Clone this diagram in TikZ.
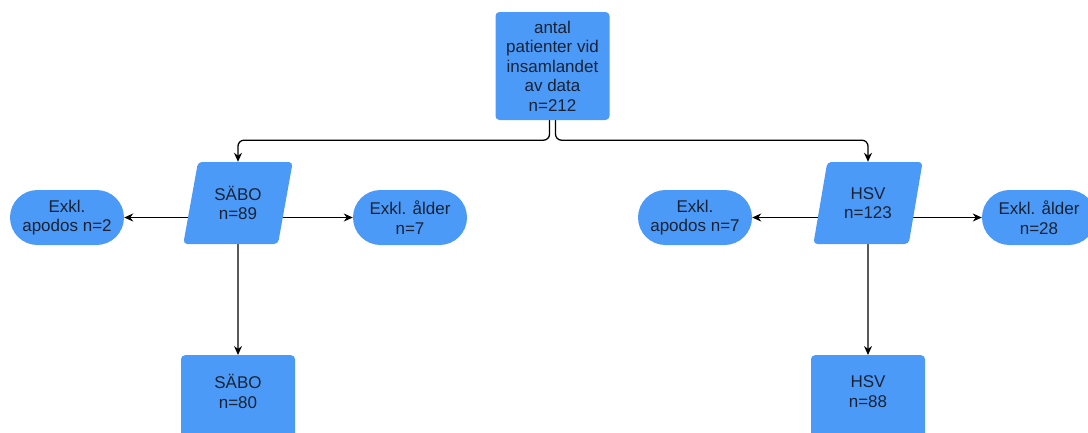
\documentclass[tikz,border=0pt]{standalone}
\usepackage{fontspec}
\setmainfont{Liberation Sans}
\usetikzlibrary{shapes.geometric,arrows.meta,backgrounds}
\definecolor{boxblue}{RGB}{76,154,247}
\definecolor{txt}{RGB}{24,34,52}
\begin{document}
\begin{tikzpicture}[x=1pt,y=-1pt,
  base/.style={fill=boxblue,draw=none,text=txt,align=center,font=\fontsize{17}{19.5}\selectfont,inner sep=2pt},
  rbox/.style={base,rectangle,rounded corners=4pt,minimum width=114pt},
  pbox/.style={base,trapezium,trapezium left angle=76,trapezium right angle=104,trapezium stretches=true,rounded corners=4pt,minimum width=110pt,minimum height=82pt},
  term/.style={base,rectangle,rounded corners=27.5pt,minimum width=114pt,minimum height=55pt},
  arr/.style={draw=black,line width=1.3pt,-{Stealth[length=9pt,width=8pt]}}]
\useasboundingbox (0,0) rectangle (1088,432);
\clip (0,0) rectangle (1088,432);
\node[rbox,minimum height=108pt] (top) at (552.5,66) {antal\\patienter vid\\insamlandet\\av data\\n=212};
\node[pbox] (sabo) at (238,203) {SÄBO\\n=89};
\node[pbox] (hsv) at (868,203) {HSV\\n=123};
\node[term] (ex1) at (67,217.5) {Exkl.\\apodos n=2};
\node[term] (ex2) at (410,217.5) {Exkl. ålder\\n=7};
\node[term] (ex3) at (695,217.5) {Exkl.\\apodos n=7};
\node[term] (ex4) at (1039,217.5) {Exkl. ålder\\n=28};
\node[rbox,minimum height=100pt,anchor=north] (sabo2) at (238,355) {SÄBO\\n=80\\[8pt]};
\node[rbox,minimum height=100pt,anchor=north] (hsv2) at (868,355) {HSV\\n=88\\[8pt]};
\begin{scope}[on background layer]
\draw[arr,rounded corners=6pt] ([xshift=-3pt]top.south) -- ++(0,20) -| (sabo.north);
\draw[arr,rounded corners=6pt] ([xshift=3pt]top.south) -- ++(0,20) -| (hsv.north);
\draw[arr] (sabo.center |- ex1.east) -- (ex1.east);
\draw[arr] (sabo.center |- ex2.west) -- (ex2.west);
\draw[arr] (hsv.center |- ex3.east) -- (ex3.east);
\draw[arr] (hsv.center |- ex4.west) -- (ex4.west);
\draw[arr] (sabo.south) -- (sabo2.north);
\draw[arr] (hsv.south) -- (hsv2.north);
\end{scope}
\end{tikzpicture}
\end{document}
